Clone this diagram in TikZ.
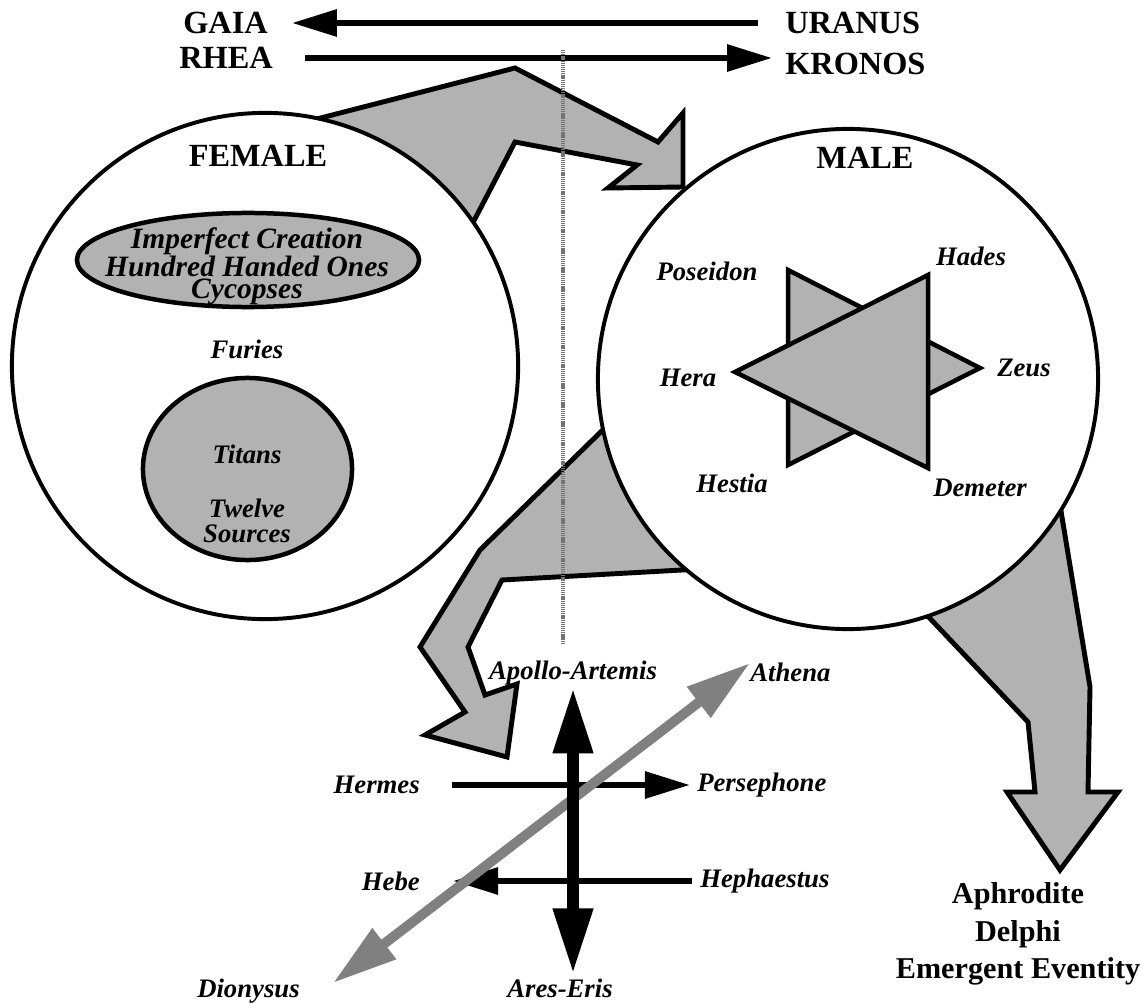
\documentclass[tikz,border=0pt]{standalone}
\usepackage{fontspec}
\setmainfont{Liberation Serif}
\usepackage{tikz}
\usetikzlibrary{positioning,arrows.meta,calc,shapes.geometric}
\tikzset{
  mythtitle/.style={font=\fontsize{23}{27}\selectfont\bfseries, inner sep=0pt},
  mythgod/.style={font=\fontsize{19}{15}\selectfont\bfseries\itshape, inner sep=0pt, align=center},
  mythring/.style={circle, draw, line width=2.8pt, fill=white, inner sep=0pt},
  mythpart/.style={draw, line width=3.2pt, fill=black!30, inner sep=0pt},
  mythflow/.style={draw, line width=3.5pt, fill=black!30},
  mytharrow/.style={-{Triangle[length=32pt,width=18.5pt]}, line width=4.3pt},
  mythpole/.style={{Triangle[length=47pt,width=26.5pt]}-{Triangle[length=47pt,width=26.5pt]}, line width=9pt},
  mythslant/.style={{Triangle[length=46pt,width=26pt]}-{Triangle[length=46pt,width=26pt]}, line width=7pt, draw=black!50},
  mythaxis/.style={draw=black!55, line width=2.8pt, dash pattern=on 0.9pt off 0.6pt},
}

\begin{document}
\begin{tikzpicture}[x=0.025cm, y=-0.025cm]
  \useasboundingbox (0,0) rectangle (1144,1004);
  % grey flows
  \filldraw[mythflow] (305,122) -- (515,68) -- (658,142) -- (683,113) -- (683,187) -- (608,188) -- (637,165) -- (515,142) -- (465,238) -- cycle;
  \filldraw[mythflow] (615,418) -- (480,550) -- (420,647) -- (465,712) -- (425,735) -- (507,757) -- (517,684) -- (485,695) -- (468,647) -- (502,580) -- (700,569) -- cycle;
  \filldraw[mythflow] (1060,505) -- (1090,687) -- (1088,792) -- (1118,792) -- (1060,870) -- (1007,792) -- (1035,792) -- (1028,722) -- (922,610) -- cycle;
  % the two circles
  \node[mythring, minimum size=360pt] (female) at (265,366) {};
  \node[mythring, minimum size=355.7pt] (male) at (848,379) {};
  \node[mythpart, ellipse, minimum width=243.3pt, minimum height=66.9pt] (imperfect) at (248,260) {};
  \node[mythpart, ellipse, minimum width=148.7pt, minimum height=129.5pt] (titans) at (247.5,469) {};
  \filldraw[mythpart] (788,270) -- (980,368) -- (788,465) -- cycle;
  \filldraw[mythpart] (928,275) -- (928,468) -- (735,372) -- cycle;
  \node[mythtitle] (femlbl) at (258,156) {FEMALE};
  \node[mythtitle] (malelbl) at (865,158) {MALE};
  \node[mythgod, font=\fontsize{21}{15.5}\selectfont\bfseries\itshape] (imptxt) at (247,266) {Imperfect Creation\\Hundred Handed Ones\\Cycopses};
  \node[mythgod] (furies) at (247,349) {Furies};
  \node[mythgod, font=\fontsize{19}{17.8}\selectfont\bfseries\itshape] (titantxt) at (247,494) {Titans\\[21pt]Twelve\\Sources};
  \node[mythgod] (poseidon) at (707,271) {Poseidon};
  \node[mythgod] (hades) at (971,256) {Hades};
  \node[mythgod] (hera) at (688,378) {Hera};
  \node[mythgod] (zeus) at (1024,368) {Zeus};
  \node[mythgod] (hestia) at (732,483) {Hestia};
  \node[mythgod] (demeter) at (980,488) {Demeter};
  % top line
  \node[mythtitle, anchor=east] (gaia) at (268,23) {GAIA};
  \node[mythtitle, anchor=west] (uranus) at (785,23) {URANUS};
  \node[mythtitle, anchor=east] (rhea) at (273,58) {RHEA};
  \node[mythtitle, anchor=west] (kronos) at (785,64) {KRONOS};
  \draw[mytharrow, shorten <=19.2pt, shorten >=17pt] (uranus.west) -- (uranus.west -| gaia.east);
  \draw[mytharrow, shorten <=22.8pt, shorten >=9.2pt] (rhea.east) -- (rhea.east -| kronos.west);
  \coordinate (axtop) at (563,50);
  \coordinate (axbot) at (563,643);
  \draw[mythaxis] (axtop) -- (axbot);
  % the cross below
  \node[mythgod] (apollo) at (573,673) {Apollo-Artemis};
  \node[mythgod] (ares) at (560,988) {Ares-Eris};
  \node[mythgod, anchor=east] (hermes) at (420,785) {Hermes};
  \node[mythgod, anchor=west] (persephone) at (697,785) {Persephone};
  \node[mythgod, anchor=east] (hebe) at (420,881) {Hebe};
  \node[mythgod, anchor=west] (hephaestus) at (700,881) {Hephaestus};
  \node[mythgod, anchor=east] (dionysus) at (300,991) {Dionysus};
  \node[mythgod, anchor=west] (athena) at (750,672) {Athena};
  \draw[mytharrow, shorten <=22.8pt, shorten >=5pt] (hermes.east) -- (hermes.east -| persephone.west);
  \draw[mytharrow, shorten <=5.7pt, shorten >=23.5pt] (hephaestus.west) -- (hephaestus.west -| hebe.east);
  \draw[mythslant] ([xshift=23.5pt, yshift=5.7pt]dionysus.east) -- ([yshift=6.4pt]athena.west);
  \draw[mythpole, shorten <=1.4pt, shorten >=2.8pt] (apollo.south) -- (apollo.south |- ares.north);
  \node[mythtitle, align=center, font=\fontsize{21.5}{26.7}\selectfont\bfseries] (aphrodite) at (1018,934) {Aphrodite\\Delphi\\Emergent Eventity};
\end{tikzpicture}
\end{document}
